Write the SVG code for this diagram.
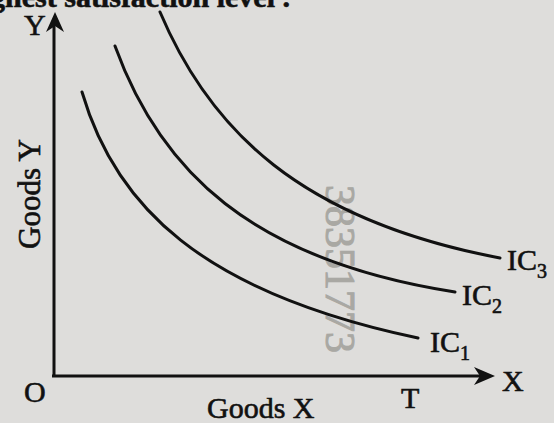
<svg xmlns="http://www.w3.org/2000/svg" width="554" height="423" viewBox="0 0 554 423">
<defs>
<style>
.t{font-family:"Liberation Serif","Times New Roman",serif;fill:#111;stroke:#111;stroke-width:0.6}
.c{fill:none;stroke:#111;stroke-width:3;stroke-linecap:round}
.ax{fill:none;stroke:#111;stroke-width:3}
</style>
</defs>
<rect width="554" height="423" fill="#dedddb"/>
<text class="t" x="290" y="7" font-size="30" font-weight="bold" text-anchor="end">highest satisfaction level .</text>
<text x="326" y="185" font-size="42" font-family="Liberation Serif,serif" fill="#9c9b96" stroke="#9c9b96" stroke-width="1" opacity="0.8" transform="rotate(90 326 185)">38351773</text>
<g id="connectors">
<path class="ax" d="M54,376 V20"/>
<path d="M46,32 L55,12 L64,32 L55,26 Z" fill="#111"/>
<path class="ax" d="M52,376 H484"/>
<path d="M474,367 L495,376 L474,385 L480,376 Z" fill="#111"/>
</g>
<g id="IC1"><path class="c" d="M82,92 C115,205 200,292 418,338"/><text class="t" x="430" y="352" font-size="30">IC<tspan font-size="20" dy="8">1</tspan></text></g>
<g id="IC2"><path class="c" d="M115,46 C160,170 250,260 455,292"/><text class="t" x="462" y="305" font-size="30">IC<tspan font-size="20" dy="8">2</tspan></text></g>
<g id="IC3"><path class="c" d="M160,12 C210,130 300,220 500,258"/><text class="t" x="507" y="270" font-size="30">IC<tspan font-size="20" dy="8">3</tspan></text></g>
<g id="labels">
<text class="t" x="24" y="35" font-size="30">Y</text>
<text class="t" x="24" y="402" font-size="30">O</text>
<text class="t" x="502" y="391" font-size="30">X</text>
<text class="t" x="401" y="408" font-size="30">T</text>
<text class="t" x="207" y="418" font-size="30">Goods X</text>
<text class="t" x="40" y="194" font-size="31" text-anchor="middle" transform="rotate(-90 40 194)">Goods Y</text>
</g>
</svg>
